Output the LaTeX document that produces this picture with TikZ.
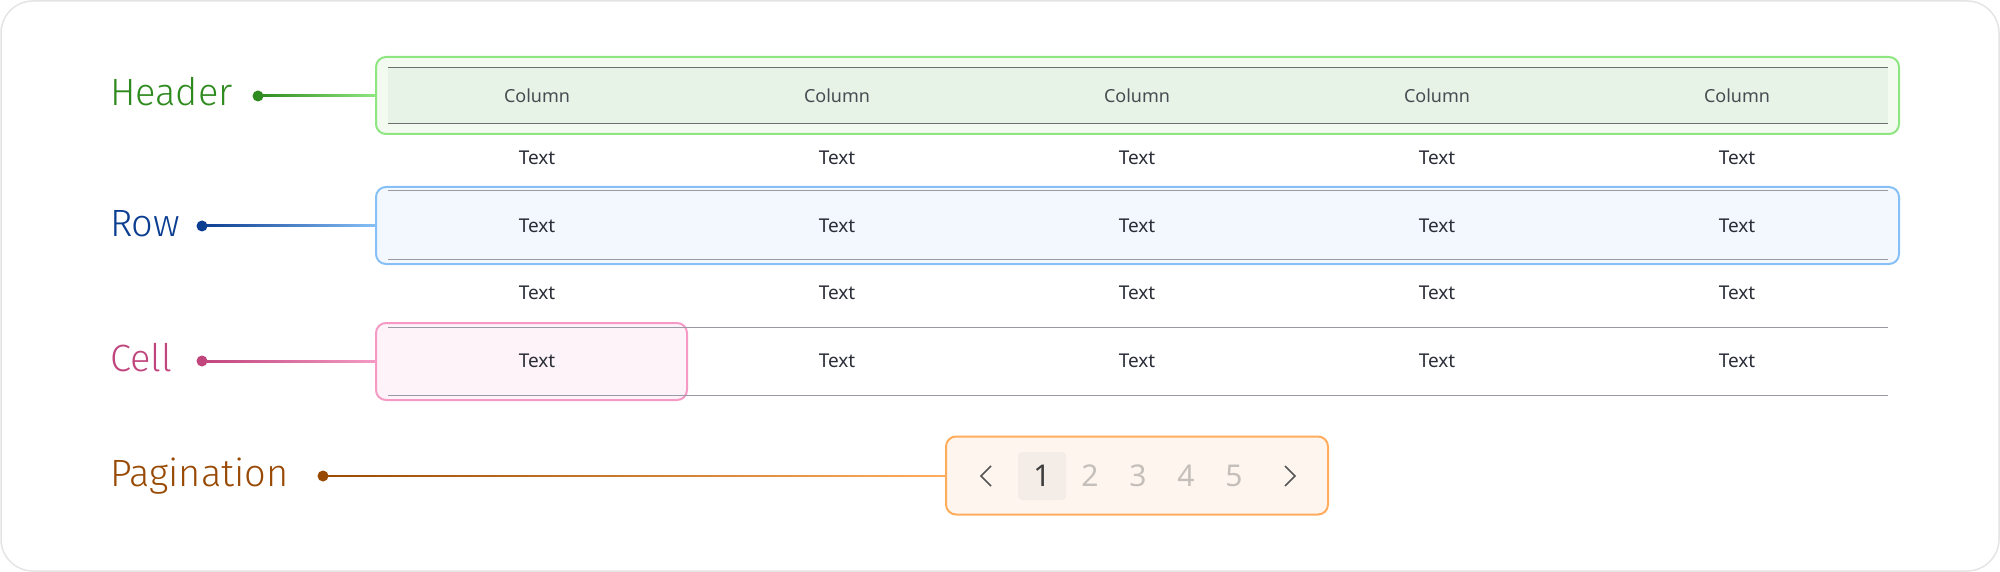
\documentclass[tikz,border=0pt]{standalone}
\usepackage{fontspec}
\setmainfont{Noto Sans}
\newfontfamily\labelfont{Fira Sans}[UprightFont=* Light]
\usepackage{tikz}
\usetikzlibrary{calc}
\definecolor{framegray}{HTML}{E4E4E4}
\definecolor{textcol}{HTML}{2B2E38}
\definecolor{colcol}{HTML}{474C52}
\definecolor{hdark}{HTML}{2F8A1F}
\definecolor{hlight}{HTML}{8EE680}
\definecolor{hfill}{HTML}{F3FBF1}
\definecolor{hinner}{HTML}{E8F3E8}
\definecolor{hline}{HTML}{6E7070}
\definecolor{rdark}{HTML}{0B3D91}
\definecolor{rlight}{HTML}{86C0F7}
\definecolor{rfill}{HTML}{F3F8FE}
\definecolor{rline}{HTML}{9A9AA6}
\definecolor{cdark}{HTML}{C0457D}
\definecolor{clight}{HTML}{F49AC4}
\definecolor{cfill}{HTML}{FEF3F9}
\definecolor{pdark}{HTML}{984A05}
\definecolor{plight}{HTML}{FFAD5C}
\definecolor{pfill}{HTML}{FEF5EE}
\definecolor{pcurfill}{HTML}{F4ECE6}
\definecolor{pagegray}{HTML}{C4BFBA}
\definecolor{pagedark}{HTML}{3D3D3D}
\definecolor{chevcol}{HTML}{555555}

\begin{document}
\begin{tikzpicture}[x=0.5pt,y=-0.5pt,
  tcell/.style={text=textcol,font=\fontsize{9.5}{11}\selectfont},
  colhead/.style={text=colcol,font=\fontsize{9}{11}\selectfont},
  callout/.style={anchor=base west,font=\labelfont\fontsize{19}{22}\selectfont},
  pin/.style={circle,inner sep=0pt,minimum size=5.5pt},
  partbox/.style={draw,rounded corners=5pt,line width=1pt,inner sep=0pt},
  tabline/.style={line width=0.5pt},
  page/.style={text=pagegray,font=\fontsize{15}{18}\selectfont},
  chev/.style={chevcol,line width=0.8pt}]
  \useasboundingbox (0,0) rectangle (2000,572);
  \draw[framegray,line width=0.75pt,rounded corners=16pt] (1,1) rectangle (1999,571);

  \node[partbox,draw=hlight,fill=hfill,minimum width=761.5pt,minimum height=38.5pt] (hdr) at (1137.5,95.5) {};
  \fill[hinner] (388,68) rectangle (1888,124);
  \draw[tabline,hline] (388,68) -- (1888,68) (388,124) -- (1888,124);
  \foreach \i in {0,...,4} \node[colhead] (col\i) at (537+300*\i,96) {Column};
  \foreach \i in {0,...,4} \node[tcell] (ra\i) at (537+300*\i,158) {Text};

  \node[partbox,draw=rlight,fill=rfill,minimum width=761.5pt,minimum height=38.5pt] (row) at (1137.5,225.5) {};
  \draw[tabline,rline] (388,191) -- (1888,191) (388,259) -- (1888,259);
  \foreach \i in {0,...,4} \node[tcell] (rb\i) at (537+300*\i,226) {Text};
  \foreach \i in {0,...,4} \node[tcell] (rc\i) at (537+300*\i,293) {Text};

  \node[partbox,draw=clight,fill=cfill,minimum width=155.5pt,minimum height=38.5pt] (cell) at (531.5,361.5) {};
  \draw[tabline,rline] (388,327) -- (1888,327) (388,395) -- (1888,395);
  \foreach \i in {0,...,4} \node[tcell] (rd\i) at (537+300*\i,361) {Text};

  \node[partbox,draw=plight,fill=pfill,minimum width=191pt,minimum height=39pt] (pag) at (1137,475.5) {};
  \node[fill=pcurfill,rounded corners=2pt,minimum size=24pt,inner sep=0pt] (pcur) at (1042,476) {};
  \node[page,text=pagedark] (p1) at (1042,476) {1};
  \node[page] (p2) at (1090,476) {2};
  \node[page] (p3) at (1138,476) {3};
  \node[page] (p4) at (1186,476) {4};
  \node[page] (p5) at (1234,476) {5};
  \draw[chev] (991,466) -- (981,476) -- (991,486);
  \draw[chev] (1285,466) -- (1295,476) -- (1285,486);

  \node[callout,text=hdark] (hdrlabel) at (103,106) {Header};
  \node[callout,text=rdark] (rowlabel) at (103,236) {Row};
  \node[callout,text=cdark] (celllabel) at (103,371) {Cell};
  \node[callout,text=pdark] (paglabel) at (103,486) {Pagination};

  \node[pin,fill=hdark] (hdrdot) at (258,96) {};
  \node[pin,fill=rdark] (rowdot) at (202,226) {};
  \node[pin,fill=cdark] (celldot) at (202,361) {};
  \node[pin,fill=pdark] (pagdot) at (323,476) {};
  \shade[left color=hdark,right color=hlight] ($(hdrdot.center)+(0,-1)$) rectangle ($(hdr.west)+(0,1)$);
  \shade[left color=rdark,right color=rlight] ($(rowdot.center)+(0,-1)$) rectangle ($(row.west)+(0,1)$);
  \shade[left color=cdark,right color=clight] ($(celldot.center)+(0,-1)$) rectangle ($(cell.west)+(0,1)$);
  \shade[left color=pdark,right color=plight] ($(pagdot.center)+(0,-1)$) rectangle ($(pag.west)+(0,1)$);
\end{tikzpicture}
\end{document}
